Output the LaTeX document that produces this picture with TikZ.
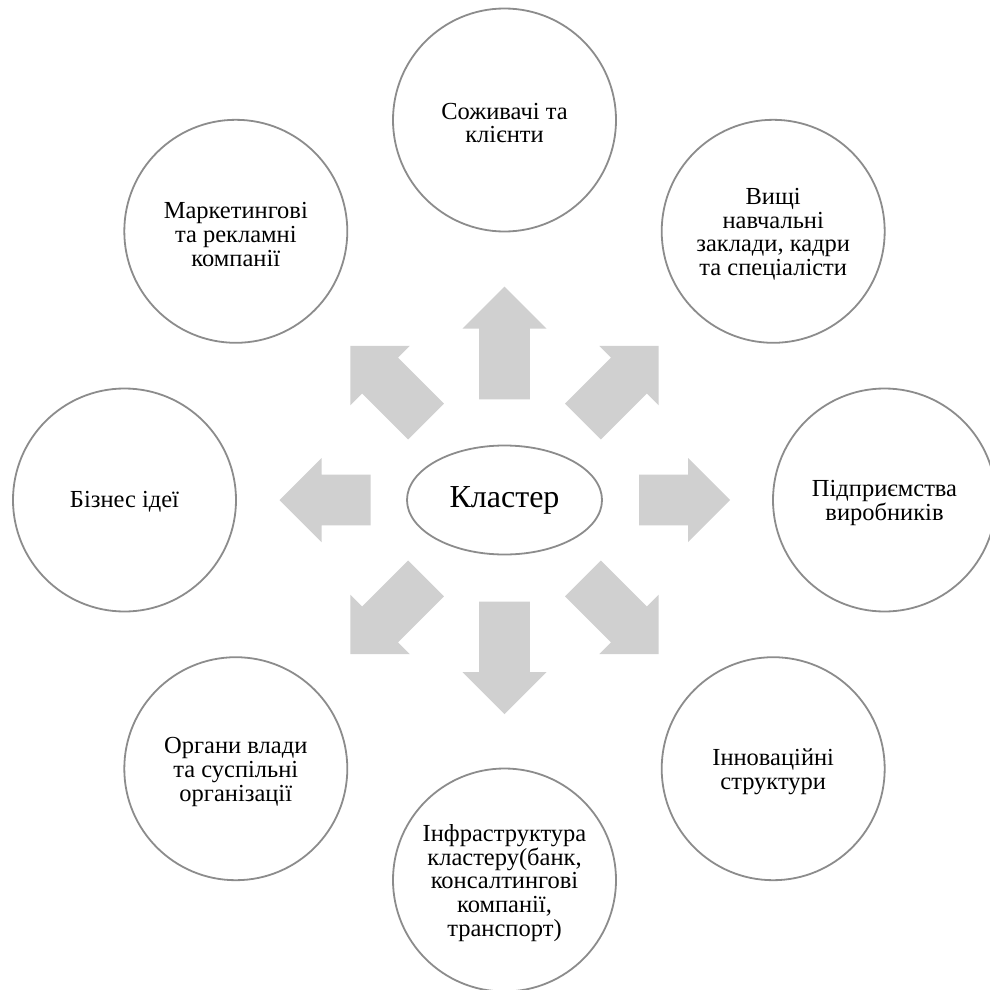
\documentclass[tikz,border=0pt]{standalone}
\usepackage{fontspec}
\setmainfont{Liberation Serif}
\usetikzlibrary{shapes.geometric}
\definecolor{ringgray}{RGB}{140,140,140}
\definecolor{arrowgray}{RGB}{208,208,208}
\newcommand\blockarr[3]{%
  \begin{scope}[shift={(504.5,500)}, rotate=#1]
    \fill[blockarrow] (#2,-25.3) -- ({#3-42},-25.3) -- ({#3-42},-42) -- (#3,0)
      -- ({#3-42},42) -- ({#3-42},25.3) -- (#2,25.3) -- cycle;
  \end{scope}}
\begin{document}
\begin{tikzpicture}[x=1pt,y=-1pt,
  topic/.style={circle, draw=ringgray, line width=1.8pt, minimum size=223pt,
    inner sep=0pt},
  topictext/.style={align=center, inner sep=0pt,
    font=\fontsize{24.5}{23.8}\selectfont},
  hub/.style={ellipse, draw=ringgray, line width=1.8pt, minimum width=195pt,
    minimum height=109pt, inner sep=0pt, font=\fontsize{32}{35}\selectfont},
  blockarrow/.style={fill=arrowgray, draw=none}]
\useasboundingbox (0,0) rectangle (990,990);
\fill[white] (0,0) rectangle (990,990);

% block arrows
\blockarr{90}{100.7}{213.3}
\blockarr{270}{101.7}{214}
\blockarr{0}{134.5}{225.5}
\blockarr{180}{133.8}{225}
\blockarr{45}{111}{218}
\blockarr{135}{111}{218}
\blockarr{225}{111}{218}
\blockarr{315}{111}{218}

% hub
\node[hub] (hub) at (504.5,500) {Кластер};

% surrounding circles
\node[topic] (top) at (504.5,120) {};
\node[topic] (tr) at (773.2,231.3) {};
\node[topic] (rt) at (884.5,500) {};
\node[topic] (br) at (773.2,768.7) {};
\node[topic] (bot) at (504.5,880) {};
\node[topic] (bl) at (235.8,768.7) {};
\node[topic] (lf) at (124.5,500) {};
\node[topic] (tl) at (235.8,231.3) {};

% texts
\node[topictext] (ttop) at ([yshift=-3pt]top.center) {Соживачі та\\клієнти};
\node[topictext] (ttr) at ([yshift=-3pt]tr.center) {Вищі\\навчальні\\заклади, кадри\\та спеціалісти};
\node[topictext] (trt) at ([yshift=-3pt]rt.center) {Підприємства\\виробників};
\node[topictext] (tbr) at ([yshift=-3pt]br.center) {Інноваційні\\структури};
\node[topictext] (tbot) at ([yshift=-3pt]bot.center) {Інфраструктура\\кластеру(банк,\\консалтингові\\компанії,\\транспорт)};
\node[topictext] (tbl) at ([yshift=-3pt]bl.center) {Органи влади\\та суспільні\\організації};
\node[topictext] (tlf) at ([yshift=-2pt]lf.center) {Бізнес ідеї};
\node[topictext] (ttl) at ([yshift=-3pt]tl.center) {Маркетингові\\та рекламні\\компанії};
\end{tikzpicture}
\end{document}
